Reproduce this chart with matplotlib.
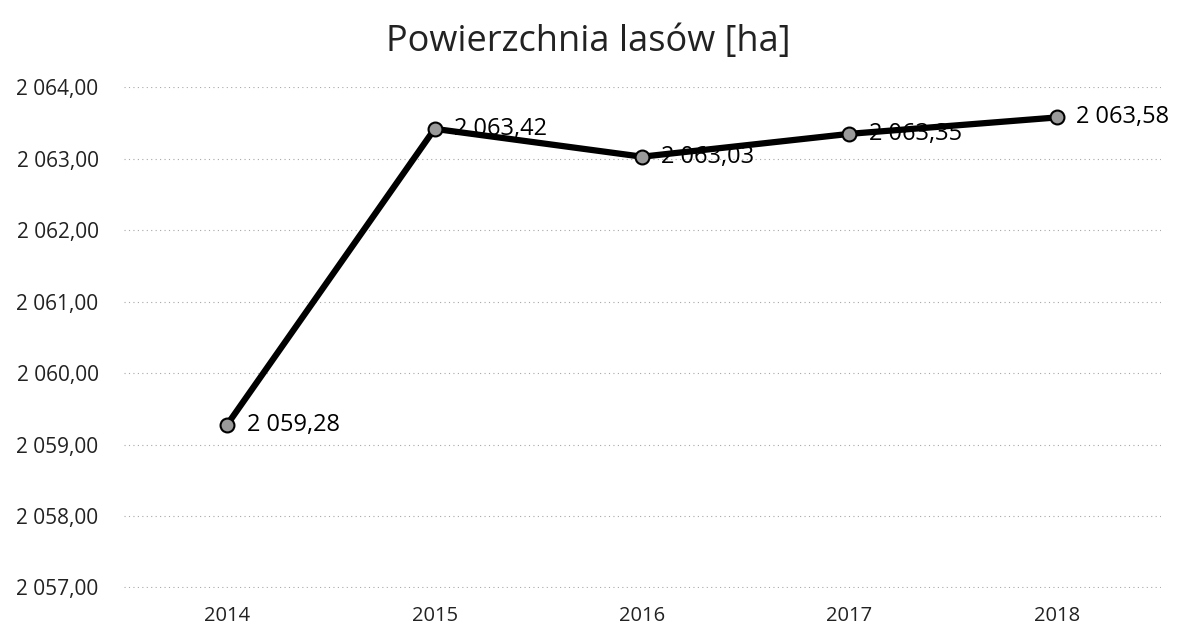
import matplotlib
matplotlib.use("Agg")
import matplotlib.pyplot as plt
from matplotlib.ticker import FuncFormatter

years = ["2014", "2015", "2016", "2017", "2018"]
area_ha = [2059.28, 2063.42, 2063.03, 2063.35, 2063.58]
y_ticks = [2057, 2058, 2059, 2060, 2061, 2062, 2063, 2064]


def pl_fmt(v, pos=None):
    s = f"{v:,.2f}"
    return s.replace(",", " ").replace(".", ",")


plt.rcParams["font.family"] = ["Open Sans", "DejaVu Sans"]

fig = plt.figure(figsize=(11.77, 6.33), dpi=100)
ax = fig.add_axes([0.105, 0.071, 0.881, 0.792])

x = list(range(len(years)))
ax.plot(x, area_ha, color="black", lw=4.5, zorder=3, clip_on=False,
        marker="o", markersize=10, markerfacecolor="#9a9a9a",
        markeredgecolor="black", markeredgewidth=1.5)

for xi, v in zip(x, area_ha):
    ax.annotate(pl_fmt(v), (xi, v), xytext=(14, 0), textcoords="offset points",
                ha="left", va="center", fontsize=17, color="black", zorder=4)

ax.set_xlim(-0.5, len(years) - 0.5)
ax.set_ylim(2056.99, 2064.01)
ax.set_xticks(x)
ax.set_xticklabels(years)
ax.set_yticks(y_ticks)
ax.yaxis.set_major_formatter(FuncFormatter(pl_fmt))
ax.tick_params(axis="both", length=0, colors="#222222")
ax.tick_params(axis="x", pad=13, labelsize=14.5)
ax.tick_params(axis="y", pad=18, labelsize=15)
ax.grid(axis="y", color="#a8a8a8", lw=0.8, linestyle=(0, (1, 3)))
ax.set_axisbelow(True)
for s in ax.spines.values():
    s.set_visible(False)

fig.suptitle("Powierzchnia lasów [ha]", y=0.962, fontsize=26, color="#222222")

fig.savefig("out.png", dpi=100)
